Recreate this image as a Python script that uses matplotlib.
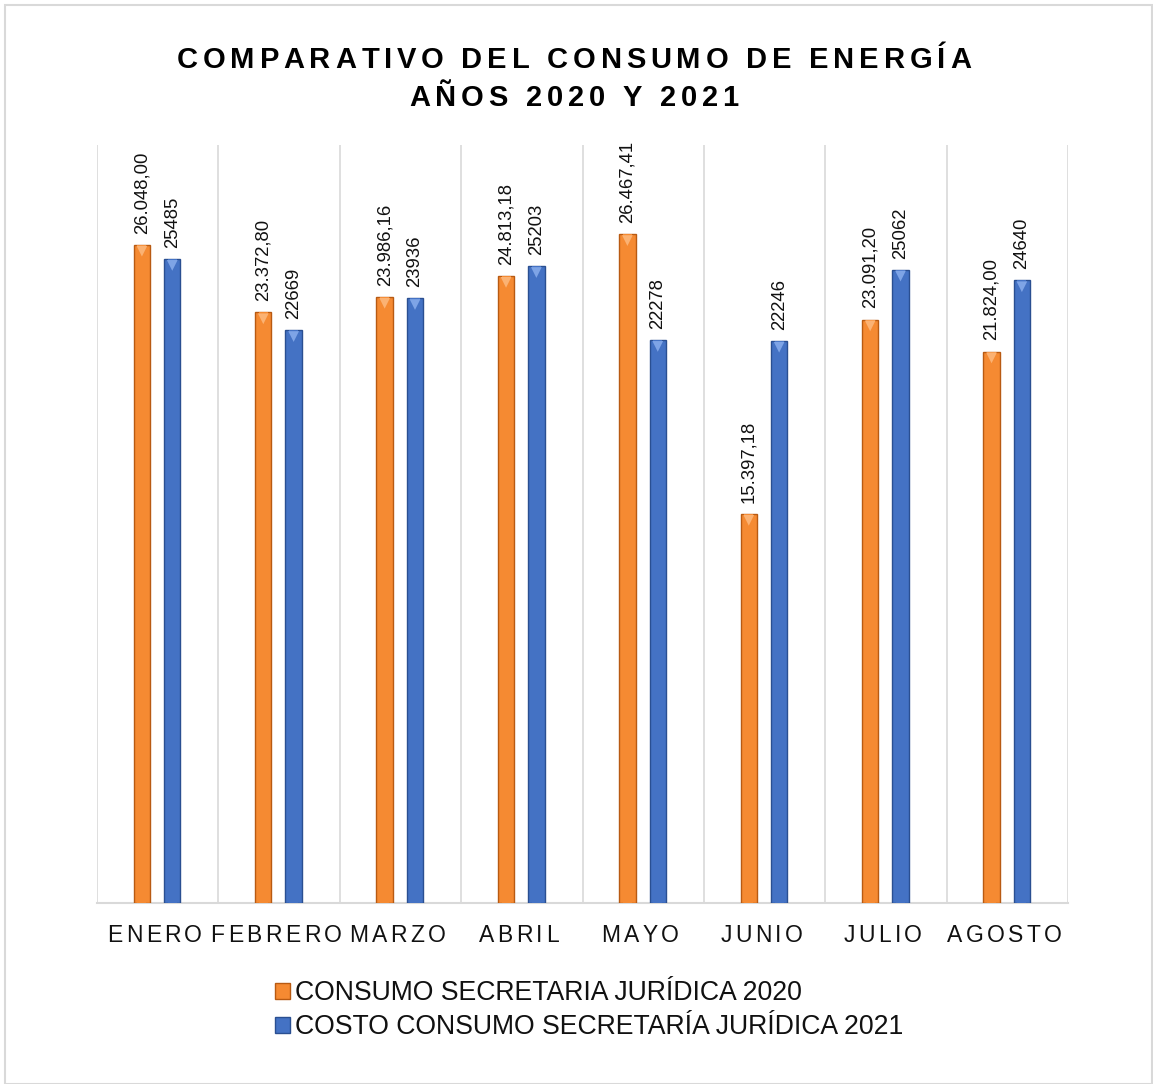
import numpy as np
import matplotlib
matplotlib.use("Agg")
import matplotlib.pyplot as plt
import matplotlib.transforms as mtransforms
from matplotlib.patches import Rectangle

months = ["ENERO", "FEBRERO", "MARZO", "ABRIL", "MAYO", "JUNIO", "JULIO", "AGOSTO"]
consumo_2020 = [26048.00, 23372.80, 23986.16, 24813.18, 26467.41, 15397.18, 23091.20, 21824.00]
costo_2021 = [25485, 22669, 23936, 25203, 22278, 22246, 25062, 24640]
labels_2020 = ["26.048,00", "23.372,80", "23.986,16", "24.813,18", "26.467,41", "15.397,18", "23.091,20", "21.824,00"]
labels_2021 = [str(v) for v in costo_2021]
series_names = ["CONSUMO SECRETARIA JURÍDICA 2020", "COSTO CONSUMO SECRETARÍA JURÍDICA 2021"]
title_lines = ["COMPARATIVO DEL CONSUMO DE ENERGÍA", "AÑOS 2020 Y 2021"]

plt.rcParams["font.family"] = ["Liberation Sans", "DejaVu Sans"]

W, H = 1153, 1084
fig = plt.figure(figsize=(W / 100, H / 100), dpi=100)
fig.patches.append(Rectangle((5 / W, 0), (W - 5) / W - 1 / W, (H - 5) / H, transform=fig.transFigure,
                             fill=False, edgecolor="#d9d9d9", linewidth=1.5))
ax = fig.add_axes([97 / W, 1 - 903 / H, (1068 - 97) / W, (903 - 145) / H])

x = np.arange(len(months))
w = 0.135
orange, orange_dk, orange_lt = "#f58a32", "#b85a12", "#fbb273"
blue, blue_dk, blue_lt = "#4472c4", "#2a4f91", "#7ea4e6"

for vals, off, c, cd, cl in [(consumo_2020, -0.13, orange, orange_dk, orange_lt),
                             (costo_2021, 0.12, blue, blue_dk, blue_lt)]:
    ax.bar(x + off, vals, width=w, color=c, edgecolor=cd, linewidth=1.0, zorder=3)
    ax.bar(x + off, vals, width=w * 0.55, color=c, edgecolor="none", zorder=3.5)
    ax.scatter(x + off, np.array(vals) - 250, marker="v", s=60, color=cl, edgecolors="none", zorder=4)

for xi, v, s in zip(x - 0.13, consumo_2020, labels_2020):
    ax.annotate(s, (xi, v), xytext=(0, 8), textcoords="offset points", rotation=90,
                ha="center", va="bottom", fontsize=13.3, color="#111111")
for xi, v, s in zip(x + 0.12, costo_2021, labels_2021):
    ax.annotate(s, (xi, v), xytext=(0, 8), textcoords="offset points", rotation=90,
                ha="center", va="bottom", fontsize=13.3, color="#111111")

ax.set_xlim(-0.5, len(months) - 0.5)
ax.set_ylim(0, 30000)
for b in np.arange(-0.5, len(months) + 0.5, 1):
    ax.axvline(b, color="#d9d9d9", linewidth=1.2, zorder=1)
for sp in ["top", "right", "left"]:
    ax.spines[sp].set_visible(False)
ax.spines["bottom"].set_color("#d9d9d9")
ax.spines["bottom"].set_linewidth(1.5)
ax.set_yticks([])
ax.set_xticks(x)
ax.set_xticklabels([])
ax.tick_params(axis="x", length=0)

renderer = fig.canvas.get_renderer()


def spaced_text(xc, yc, s, spacing, transform, dx=0, **kw):
    # draw text one glyph at a time with extra letter spacing (px), centered at xc
    parts = []
    widths = []
    for ch in s:
        t = fig.text(0, 0, ch if ch != " " else "\u00a0", transform=transform, ha="left", va="center", **kw)
        bb = t.get_window_extent(renderer)
        if ch == " ":
            t2 = fig.text(0, 0, "a a", **kw)
            t3 = fig.text(0, 0, "aa", **kw)
            wsp = t2.get_window_extent(renderer).width - t3.get_window_extent(renderer).width
            t2.remove(); t3.remove()
            widths.append(wsp)
        else:
            widths.append(bb.width)
        parts.append(t)
    total = sum(widths) + spacing * (len(s) - 1)
    cur = -total / 2 + dx
    for t, wd in zip(parts, widths):
        t.set_position((xc, yc))
        t.set_transform(mtransforms.offset_copy(transform, fig=fig, x=cur * 72 / fig.dpi, y=0, units="points"))
        cur += wd + spacing


blended = mtransforms.blended_transform_factory(ax.transData, fig.transFigure)
for xi, m in zip(x, months):
    spaced_text(xi, 1 - 935 / H, m, 3.4, blended, dx=-3, fontsize=16.5, color="#111111")

spaced_text(574 / W, 1 - 60 / H, title_lines[0], 4.8, fig.transFigure, fontsize=21, fontweight="bold", color="#000000")
spaced_text(574 / W, 1 - 98 / H, title_lines[1], 4.8, fig.transFigure, fontsize=21, fontweight="bold", color="#000000")

handles = [Rectangle((0, 0), 1, 1, facecolor=orange, edgecolor=orange_dk),
           Rectangle((0, 0), 1, 1, facecolor=blue, edgecolor=blue_dk)]
fig.legend(handles, series_names, loc="center", bbox_to_anchor=(589 / W, 1 - 1010 / H), frameon=False,
           fontsize=19.2, handlelength=0.55, handleheight=0.55, handletextpad=0.2, labelspacing=0.3,
           borderaxespad=0, labelcolor="#111111")

fig.savefig("out.png", dpi=100)
